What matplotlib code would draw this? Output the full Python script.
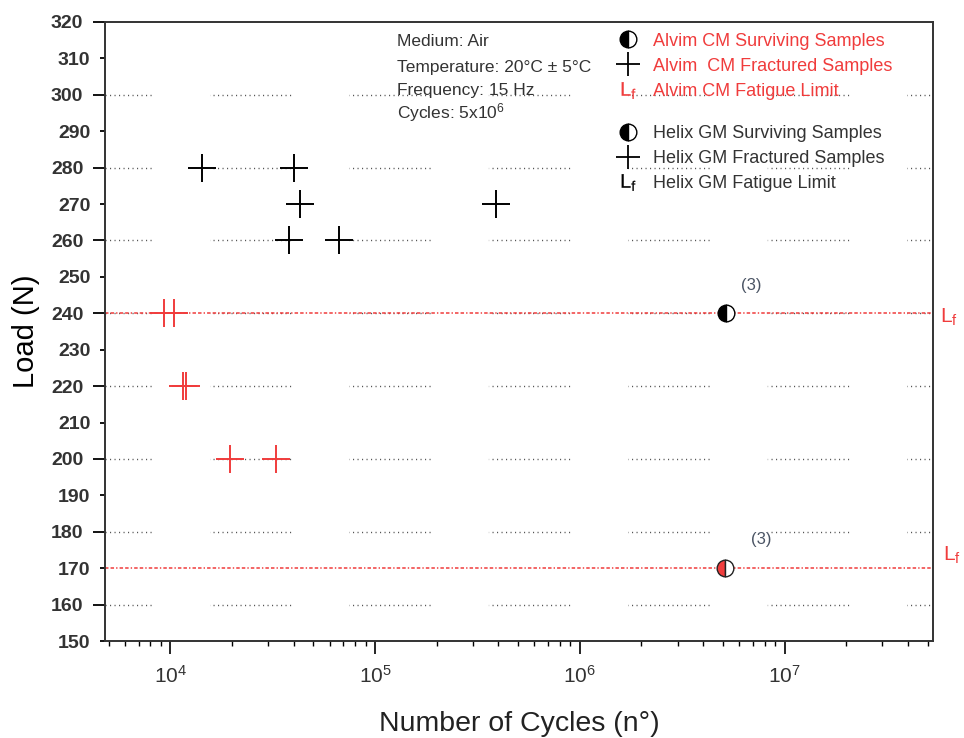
import matplotlib
matplotlib.use("Agg")
import matplotlib.pyplot as plt
import matplotlib.transforms as mtransforms
from matplotlib.lines import Line2D
from matplotlib.ticker import MultipleLocator, FormatStrFormatter, LogLocator
import numpy as np

plt.rcParams['font.family'] = ['Liberation Sans', 'DejaVu Sans']
plt.rcParams['mathtext.fontset'] = 'custom'
plt.rcParams['mathtext.rm'] = 'Liberation Sans'
plt.rcParams['mathtext.it'] = 'Liberation Sans:italic'
plt.rcParams['lines.scale_dashes'] = False

# data
helix_fract_cycles = [14300, 40000, 43000, 390000, 38000, 67000]
helix_fract_load = [280, 280, 270, 270, 260, 260]
alvim_fract_cycles = [9300, 10400, 11500, 11900, 19500, 33000]
alvim_fract_load = [240, 240, 220, 220, 200, 200]
helix_surv_cycles = [5.2e6]
helix_surv_load = [240]
alvim_surv_cycles = [5.1e6]
alvim_surv_load = [170]
helix_limit = 240
alvim_limit = 170
grid_levels = [160, 180, 200, 220, 240, 260, 280, 300]
info_lines = ["Medium: Air", "Temperature: 20°C ± 5°C", "Frequency: 15 Hz", "Cycles: 5x10$^{6}$"]

red = '#f03c3c'
txt = '#333333'

fig = plt.figure(figsize=(9.64, 7.38), dpi=100)
ax = fig.add_axes([0.1089, 0.1314, 0.8589, 0.8388])
ax.set_xscale('log')
ax.set_xlim(4.8e3, 5.3e7)
ax.set_ylim(150, 320)

# dotted grid, broken into groups by a white dash laid over it
for g in grid_levels:
    ax.axhline(g, color='#555555', lw=1.0, linestyle=(0, (0.8, 2.44)), zorder=1)
    ax.axhline(g, color='white', lw=3.0, linestyle=(66.1, (41.3, 59.1)), zorder=1.5)

# fatigue limit lines
for lim in [helix_limit, alvim_limit]:
    ax.axhline(lim, color=red, lw=1.1, linestyle=(0, (2.5, 1.5, 2.5, 1.5, 1, 1.5)), zorder=2)

ax.plot(helix_fract_cycles, helix_fract_load, '+', color='k', ms=20, mew=1.4, ls='none', zorder=3)
ax.plot(alvim_fract_cycles, alvim_fract_load, '+', color=red, ms=20, mew=1.4, ls='none', zorder=3)
ax.plot(helix_surv_cycles, helix_surv_load, 'o', ms=12, fillstyle='left', mfc='k',
        mfcalt='white', mec='k', mew=1.0, ls='none', zorder=4)
ax.plot(alvim_surv_cycles, alvim_surv_load, 'o', ms=12, fillstyle='left', mfc=red,
        mfcalt='white', mec='#222222', mew=1.0, ls='none', zorder=4)

ax.annotate('(3)', (helix_surv_cycles[0], helix_surv_load[0]), xytext=(18, 20),
            textcoords='offset points', fontsize=12, color='#4a5464', ha='center', va='center')
ax.annotate('(3)', (alvim_surv_cycles[0], alvim_surv_load[0]), xytext=(26, 21),
            textcoords='offset points', fontsize=12, color='#4a5464', ha='center', va='center')

trans = mtransforms.blended_transform_factory(ax.transAxes, ax.transData)
ax.annotate('L$_\\mathregular{f}$', (1, helix_limit), xycoords=trans, xytext=(5, -3),
            textcoords='offset points', fontsize=15, color=red, va='center', ha='left',
            annotation_clip=False)
ax.annotate('L$_\\mathregular{f}$', (1, alvim_limit), xycoords=trans, xytext=(7, 9),
            textcoords='offset points', fontsize=15, color=red, va='center', ha='left',
            annotation_clip=False)

for line, yy in zip(info_lines, [0.969, 0.927, 0.890, 0.853]):
    ax.text(0.3527, yy, line, transform=ax.transAxes, fontsize=12.5,
            color=txt, va='center', ha='left')

# legends
lf_marker = r'$\mathregular{L_f}$'
alvim_handles = [
    Line2D([], [], marker='o', ls='none', ms=12, fillstyle='left', mfc='k', mfcalt='white', mec='k'),
    Line2D([], [], marker='+', ls='none', ms=17, mew=1.3, color='k'),
    Line2D([], [], marker=lf_marker, ls='none', ms=12, mew=0.2, color=red),
]
alvim_labels = ['Alvim CM Surviving Samples', 'Alvim  CM Fractured Samples', 'Alvim CM Fatigue Limit']
helix_handles = [
    Line2D([], [], marker='o', ls='none', ms=12, fillstyle='left', mfc='k', mfcalt='white', mec='k'),
    Line2D([], [], marker='+', ls='none', ms=17, mew=1.3, color='k'),
    Line2D([], [], marker=lf_marker, ls='none', ms=12, mew=0.2, color='k'),
]
helix_labels = ['Helix GM Surviving Samples', 'Helix GM Fractured Samples', 'Helix GM Fatigue Limit']

leg1 = ax.legend(alvim_handles, alvim_labels, loc='upper left', bbox_to_anchor=(0.599, 1.009),
                 frameon=False, fontsize=13, handlelength=1.2, handletextpad=0.79,
                 labelspacing=0.45, labelcolor=red)
ax.add_artist(leg1)
ax.legend(helix_handles, helix_labels, loc='upper left', bbox_to_anchor=(0.599, 0.860),
          frameon=False, fontsize=13, handlelength=1.2, handletextpad=0.79,
          labelspacing=0.45, labelcolor=txt)

# axes styling
ax.yaxis.set_major_locator(MultipleLocator(20))
ax.yaxis.set_minor_locator(MultipleLocator(10))
ax.yaxis.set_major_formatter(FormatStrFormatter('%d'))
ax.yaxis.set_minor_formatter(FormatStrFormatter('%d'))
ax.xaxis.set_major_locator(LogLocator(base=10, numticks=10))
ax.xaxis.set_minor_locator(LogLocator(base=10, subs=np.arange(2, 10), numticks=20))
ax.tick_params(axis='y', which='both', labelsize=14, labelcolor=txt, direction='out', pad=7)
ax.tick_params(axis='y', which='major', length=8.6, width=1.3)
ax.tick_params(axis='y', which='minor', length=3.5, width=1.3)
ax.tick_params(axis='x', which='major', length=9.4, width=1.2, labelsize=15, labelcolor=txt, pad=8)
ax.tick_params(axis='x', which='minor', length=3.8, width=1.0)
for lab in ax.get_yticklabels(which='both'):
    lab.set_fontweight('bold')
for s in ax.spines.values():
    s.set_linewidth(1.4)
    s.set_color('#333333')

ax.set_ylabel('Load (N)', fontsize=21, labelpad=8)
ax.set_xlabel('Number of Cycles (n°)', fontsize=20.5, labelpad=17, color='#222222')

plt.savefig('out.png', dpi=100)
plt.close()
